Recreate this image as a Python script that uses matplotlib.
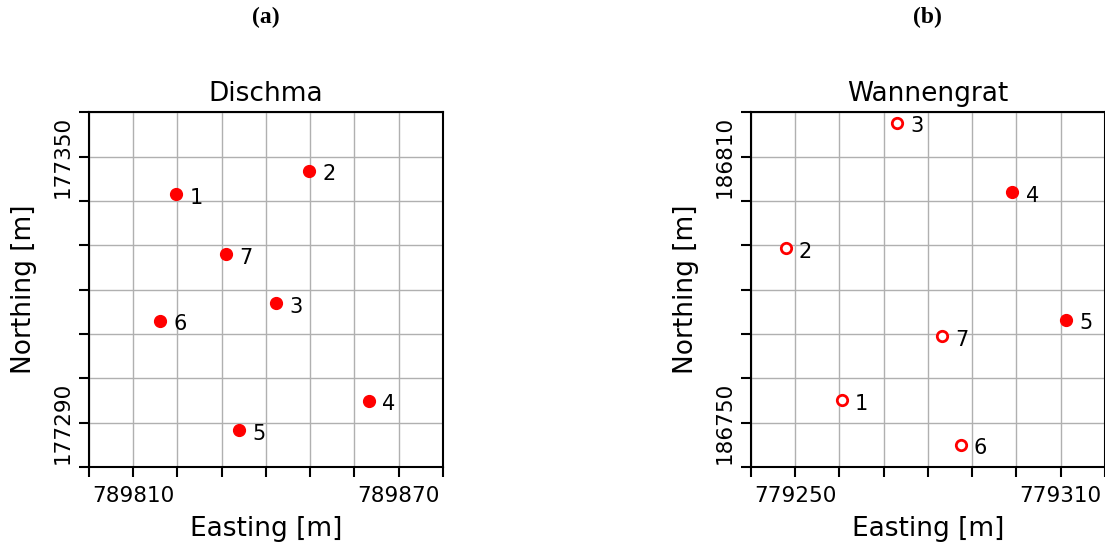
import numpy as np
import matplotlib
matplotlib.use('Agg')
import matplotlib.pyplot as plt

# Station positions (Swiss grid, m)
dis_ids = ['1', '2', '3', '4', '5', '6', '7']
dis_east = [789819.8, 789849.8, 789842.4, 789863.2, 789834.0, 789816.2, 789831.0]
dis_north = [177341.5, 177346.8, 177316.9, 177294.9, 177288.3, 177313.0, 177328.0]
dis_filled = [True, True, True, True, True, True, True]

wan_ids = ['1', '2', '3', '4', '5', '6', '7']
wan_east = [779260.5, 779247.9, 779273.1, 779299.1, 779311.3, 779287.4, 779283.2]
wan_north = [186755.1, 186789.3, 186817.7, 186802.0, 186773.2, 186745.0, 186769.5]
wan_filled = [False, False, False, True, True, False, False]

dis_xlim, dis_ylim = (789800, 789880), (177280, 177360)
wan_xlim, wan_ylim = (779240, 779320), (186740, 186820)
dis_xlab, dis_ylab = [789810, 789870], [177290, 177350]
wan_xlab, wan_ylab = [779250, 779310], [186750, 186810]

fig = plt.figure(figsize=(11.05, 5.46), dpi=100)
ax1 = fig.add_axes([0.0803, 0.1447, 0.3206, 0.6496])
ax2 = fig.add_axes([0.6794, 0.1447, 0.3206, 0.6496])


def draw_site(ax, title, ids, east, north, filled, xlim, ylim, xlab, ylab):
    for i, e, n, f in zip(ids, east, north, filled):
        if f:
            ax.plot(e, n, 'o', color='red', markersize=8.5, zorder=3)
        else:
            ax.plot(e, n, 'o', markerfacecolor='white', markeredgecolor='red',
                    markeredgewidth=2, markersize=7.5, zorder=3)
        ax.annotate(i, (e, n), xytext=(9.5, -2.5), textcoords='offset points',
                    ha='left', va='center', fontsize=15)
    ax.set_xlim(xlim)
    ax.set_ylim(ylim)
    xt = np.arange(xlim[0], xlim[1] + 1, 10)
    yt = np.arange(ylim[0], ylim[1] + 1, 10)
    ax.set_xticks(xt)
    ax.set_yticks(yt)
    ax.set_xticklabels([str(v) if v in xlab else '' for v in xt], fontsize=15.5)
    ax.set_yticklabels([str(v) if v in ylab else '' for v in yt], fontsize=15.5,
                       rotation=90, va='center')
    ax.tick_params(direction='out', length=7, width=1.5)
    ax.tick_params(axis='x', pad=7)
    ax.tick_params(axis='y', pad=4.5)
    ax.grid(True, color='#b0b0b0', linewidth=1)
    ax.set_axisbelow(True)
    for s in ax.spines.values():
        s.set_linewidth(1.5)
    ax.set_title(title, fontsize=19, pad=8)
    ax.set_xlabel('Easting [m]', fontsize=19, labelpad=7)
    ax.set_ylabel('Northing [m]', fontsize=19, labelpad=11)


draw_site(ax1, 'Dischma', dis_ids, dis_east, dis_north, dis_filled,
          dis_xlim, dis_ylim, dis_xlab, dis_ylab)
draw_site(ax2, 'Wannengrat', wan_ids, wan_east, wan_north, wan_filled,
          wan_xlim, wan_ylim, wan_xlab, wan_ylab)

fig.text(0.2406, 0.968, '(a)', ha='center', va='center', fontsize=17,
         fontweight='bold', family='Liberation Serif')
fig.text(0.8397, 0.968, '(b)', ha='center', va='center', fontsize=17,
         fontweight='bold', family='Liberation Serif')

fig.savefig('out.png', dpi=100)
